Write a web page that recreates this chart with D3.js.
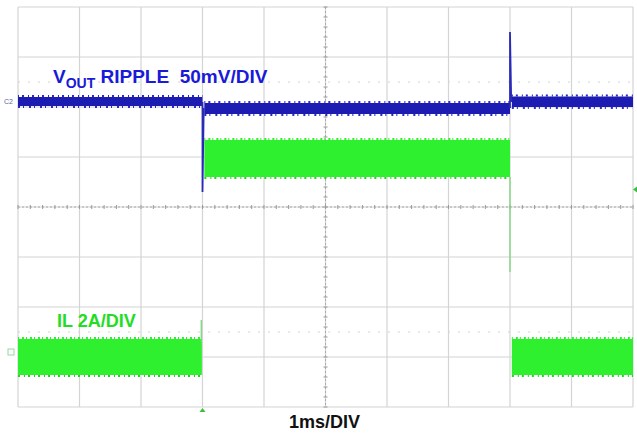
<!DOCTYPE html>
<html><head><meta charset="utf-8">
<script src="https://cdn.jsdelivr.net/npm/d3@7"></script>
<style>html,body{margin:0;padding:0;background:#fff;}svg{display:block;}</style>
</head><body><div id="chart"></div>
<script>
// Time axis: ms (1 ms/div, 10 div); vertical axis in divisions (-4..4)
const timeDomain = [0, 10];
const divDomain = [-4, 4];
const xGridTicks = [0,1,2,3,4,5,6,7,8,9,10];
const yGridTicks = [-4,-3,-2,-1,0,1,2,3,4];

// VOUT ripple band segments (t0, t1 in ms; lo, hi in divisions)
const voutT0 = [0, 3.03, 8.03];
const voutT1 = [3.0, 8.0, 10];
const voutLo = [2.02, 1.86, 2.0];
const voutHi = [2.2, 2.08, 2.21];
// VOUT transient spikes (t in ms, v in div)
const voutSpikeT = [3.0, 3.0, 3.02, 8.0, 8.0, 8.02];
const voutSpikeV = [2.1, 0.3, 1.98, 1.98, 3.5, 2.1];

// IL band segments
const ilT0 = [0, 3.03, 8.03];
const ilT1 = [2.99, 8.0, 10];
const ilLo = [-3.36, 0.6, -3.36];
const ilHi = [-2.64, 1.34, -2.64];
// IL transition lines
const ilEdgeT = [2.98, 8.0];
const ilEdgeV0 = [-2.26, 0.6];
const ilEdgeV1 = [-2.7, -1.3];

const W = 637, H = 433;
const svg = d3.select("#chart").append("svg").attr("width", W).attr("height", H);
svg.append("rect").attr("width", W).attr("height", H).attr("fill", "#fff");

const x = d3.scaleLinear().domain(timeDomain).range([18, 633]);
const y = d3.scaleLinear().domain(divDomain).range([407, 7]);

// grid
const g = svg.append("g");
g.selectAll(".vg").data(xGridTicks).join("line")
  .attr("x1", d => x(d)).attr("x2", d => x(d)).attr("y1", y(4)).attr("y2", y(-4))
  .attr("stroke", "#d4d4d4").attr("stroke-width", 1.2);
g.selectAll(".hg").data(yGridTicks).join("line")
  .attr("y1", d => y(d)).attr("y2", d => y(d)).attr("x1", x(0)).attr("x2", x(10))
  .attr("stroke", "#d4d4d4").attr("stroke-width", 1.2);
// center lines darker with minor ticks
g.append("line").attr("x1", x(5)).attr("x2", x(5)).attr("y1", y(4)).attr("y2", y(-4))
  .attr("stroke", "#a8a8a8").attr("stroke-width", 1).attr("stroke-dasharray", "2,2");
g.append("line").attr("y1", y(0)).attr("y2", y(0)).attr("x1", x(0)).attr("x2", x(10))
  .attr("stroke", "#a8a8a8").attr("stroke-width", 1).attr("stroke-dasharray", "2,2");
const minorX = d3.range(0, 50.01, 1).map(i => i / 5);
const minorY = d3.range(-20, 20.01, 1).map(i => i / 5);
g.selectAll(".mx").data(minorX).join("line")
  .attr("x1", d => x(d)).attr("x2", d => x(d)).attr("y1", y(0) - 2).attr("y2", y(0) + 2)
  .attr("stroke", "#999");
g.selectAll(".my").data(minorY).join("line")
  .attr("y1", d => y(d)).attr("y2", d => y(d)).attr("x1", x(5) - 2).attr("x2", x(5) + 2)
  .attr("stroke", "#999");
// faint dotted reference lines
g.selectAll(".ref").data([2.5, -2.5]).join("line")
  .attr("y1", d => y(d)).attr("y2", d => y(d)).attr("x1", x(0)).attr("x2", x(10))
  .attr("stroke", "#d4d4d4").attr("stroke-width", 1).attr("stroke-dasharray", "2,8");

// IL
const ilColor = "#2ef02e";
const ilSegs = ilT0.map((t, i) => ({t0: t, t1: ilT1[i], lo: ilLo[i], hi: ilHi[i]}));
svg.selectAll(".il").data(ilSegs).join("rect")
  .attr("x", d => x(d.t0)).attr("width", d => x(d.t1) - x(d.t0))
  .attr("y", d => y(d.hi)).attr("height", d => y(d.lo) - y(d.hi))
  .attr("fill", ilColor);
// ripple peak texture along band edges
svg.selectAll(".ilt").data(ilSegs).join("line")
  .attr("x1", d => x(d.t0)).attr("x2", d => x(d.t1))
  .attr("y1", d => y(d.hi) - 1).attr("y2", d => y(d.hi) - 1)
  .attr("stroke", ilColor).attr("stroke-width", 2).attr("stroke-dasharray", "1,3,2,2");
svg.selectAll(".ilb").data(ilSegs).join("line")
  .attr("x1", d => x(d.t0)).attr("x2", d => x(d.t1))
  .attr("y1", d => y(d.lo) + 1).attr("y2", d => y(d.lo) + 1)
  .attr("stroke", "#28d028").attr("stroke-width", 2).attr("stroke-dasharray", "2,4,1,3");
svg.selectAll(".ile").data(ilEdgeT).join("line")
  .attr("x1", d => x(d)).attr("x2", d => x(d))
  .attr("y1", (d, i) => y(ilEdgeV0[i])).attr("y2", (d, i) => y(ilEdgeV1[i]))
  .attr("stroke", "#7bd67b").attr("stroke-width", 1.3);

// VOUT
const vColor = "#1c1cb2";
const vSegs = voutT0.map((t, i) => ({t0: t, t1: voutT1[i], lo: voutLo[i], hi: voutHi[i]}));
svg.selectAll(".vo").data(vSegs).join("rect")
  .attr("x", d => x(d.t0)).attr("width", d => x(d.t1) - x(d.t0))
  .attr("y", d => y(d.hi)).attr("height", d => y(d.lo) - y(d.hi))
  .attr("fill", vColor);
svg.selectAll(".vot").data(vSegs).join("line")
  .attr("x1", d => x(d.t0)).attr("x2", d => x(d.t1))
  .attr("y1", d => y(d.hi) - 1).attr("y2", d => y(d.hi) - 1)
  .attr("stroke", "#2a2ac0").attr("stroke-width", 2).attr("stroke-dasharray", "1,3,2,4");
svg.selectAll(".vob").data(vSegs).join("line")
  .attr("x1", d => x(d.t0)).attr("x2", d => x(d.t1))
  .attr("y1", d => y(d.lo) + 1).attr("y2", d => y(d.lo) + 1)
  .attr("stroke", "#2a2ac0").attr("stroke-width", 2).attr("stroke-dasharray", "2,3,1,5");
const spikeLine = d3.line().x(d => x(d[0])).y(d => y(d[1]));
svg.append("path").datum(voutSpikeT.slice(0, 3).map((t, i) => [t, voutSpikeV[i]]))
  .attr("d", spikeLine).attr("fill", "none").attr("stroke", "#2a2ab8").attr("stroke-width", 1.8);
svg.append("path").datum(voutSpikeT.slice(3).map((t, i) => [t, voutSpikeV[i + 3]]))
  .attr("d", spikeLine).attr("fill", "none").attr("stroke", "#2a2ab8").attr("stroke-width", 1.8);

// channel markers
svg.append("text").attr("x", 4).attr("y", y(2.12) + 2.5).attr("font-size", 7)
  .attr("font-family", "Liberation Sans, Arial, sans-serif").attr("fill", "#5a6aa8").text("C2");
svg.append("rect").attr("x", 8).attr("y", y(-2.9) - 3).attr("width", 6).attr("height", 6)
  .attr("fill", "none").attr("stroke", "#9ad89a").attr("stroke-width", 1);
svg.append("path").attr("d", `M${x(3)-3},${y(-4)+5}L${x(3)+3},${y(-4)+5}L${x(3)},${y(-4)+1}Z`).attr("fill", "#3cc03c");
svg.append("path").attr("d", `M${x(10)+4},${y(0.35)-3}L${x(10)+4},${y(0.35)+3}L${x(10)},${y(0.35)}Z`).attr("fill", "#3cc03c");

// labels
const font = "Liberation Sans, Arial, Helvetica, sans-serif";
const vt = svg.append("text").attr("x", 53).attr("y", 83).attr("font-family", font)
  .attr("font-weight", "bold").attr("fill", "#1a1ad8").attr("font-size", 19);
vt.append("tspan").text("V");
vt.append("tspan").attr("font-size", 14).attr("dy", 5).text("OUT");
vt.append("tspan").attr("dy", -5).attr("xml:space", "preserve").text(" RIPPLE\u00a0 50mV/DIV");

svg.append("text").attr("x", 57).attr("y", 327).attr("font-family", font)
  .attr("font-weight", "bold").attr("fill", "#22dd22").attr("font-size", 18).text("IL 2A/DIV");
svg.append("text").attr("x", 324.5).attr("y", 428).attr("text-anchor", "middle").attr("font-family", font)
  .attr("font-weight", "bold").attr("fill", "#111").attr("font-size", 18).text("1ms/DIV");
</script></body></html>
